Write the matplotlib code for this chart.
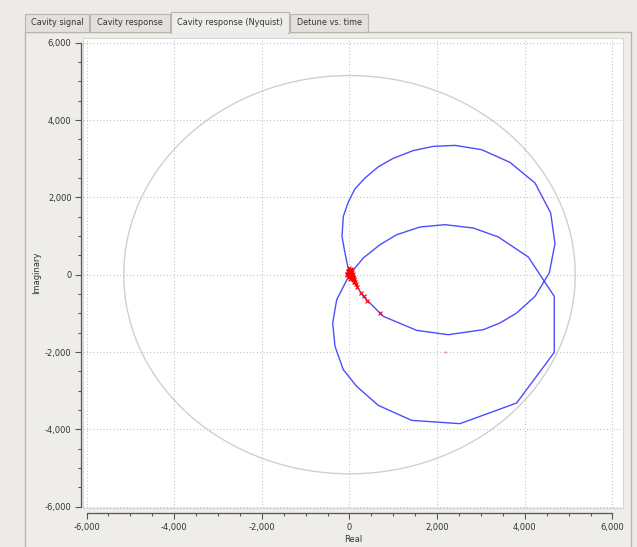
import numpy as np
import matplotlib.pyplot as plt
from matplotlib.patches import Rectangle, Circle
from matplotlib.ticker import FuncFormatter, MultipleLocator

# response trace (real / imaginary)
curve_re = [0, -103, -171, -141, -27, 125, 354, 657, 999, 1456, 1912, 2407, 3016, 3662,
            4232, 4590, 4688, 4558, 4232, 3814, 3434, 3053, 2254, 1533, 771, 315, 0,
            315, 696, 1077, 1608, 2179, 2825, 3395, 4079, 4672, 4672, 3814, 2521, 1419,
            657, 164, -141, -331, -383, -292, 0]
curve_im = [0, 561, 990, 1508, 1880, 2220, 2500, 2790, 3010, 3210, 3318, 3344, 3233, 2904,
            2372, 1596, 802, 44, -561, -991, -1249, -1422, -1552, -1440, -1078, -561, 0,
            432, 776, 1034, 1233, 1293, 1207, 975, 458, -561, -2009, -3318, -3853, -3768,
            -3380, -2889, -2457, -1854, -1249, -647, 0]

# measured points (red crosses)
meas_re = [0, 20, -30, 40, 10, -50, 30, 60, -20, 50, 80, 100, -40, 0, 20, 70, 120,
           90, -60, 110, -10, 35, 55, 15, -25, 45, 75, 95, 140, 180, 262, 331, 392, 696]
meas_im = [0, 40, 60, -20, 120, 20, 150, 80, -60, -80, -120, -150, 100, 180, -100, 20,
           -200, -60, -20, -180, 90, 110, -40, -30, 10, 50, -90, -110, -240, -320,
           -465, -551, -680, -998]
stray_re = [2180]
stray_im = [-2000]

circle_radius = 5150
tab_names = ["Cavity signal", "Cavity response", "Cavity response (Nyquist)", "Detune vs. time"]
ticks = [-6000, -4000, -2000, 0, 2000, 4000, 6000]

W, H = 637, 547
BG = "#edebe7"


def fx(x):
    return x / W


def fy(y):
    return 1 - y / H


fig = plt.figure(figsize=(W / 100, H / 100), dpi=100, facecolor=BG)

# notebook page frame
fig.patches.append(Rectangle((fx(25), fy(560)), fx(631) - fx(25), fy(32) - fy(560),
                             transform=fig.transFigure, facecolor="#efedea",
                             edgecolor="#b9b4ad", lw=1, zorder=-3))
# tabs
tab_x = [(25, 89), (90, 170), (171, 289), (290, 368)]
for i, (name, (x0, x1)) in enumerate(zip(tab_names, tab_x)):
    active = i == 2
    top = 12 if active else 14
    bot = 33 if active else 32
    fig.patches.append(Rectangle((fx(x0), fy(bot)), fx(x1) - fx(x0), fy(top) - fy(bot),
                                 transform=fig.transFigure,
                                 facecolor="#efedea" if active else "#e4e1dc",
                                 edgecolor="#b9b4ad", lw=0.8, zorder=-2))
    if active:
        fig.patches.append(Rectangle((fx(x0 + 0.6), fy(33.5)), fx(x1 - x0 - 1.2), fy(31) - fy(33.5),
                                     transform=fig.transFigure, facecolor="#efedea",
                                     edgecolor="none", zorder=-1))
    fig.text(fx((x0 + x1) / 2), fy(22.5), name, ha="center", va="center",
             fontsize=5.9, color="#333333")

ax = fig.add_axes([fx(83), fy(508), fx(623) - fx(83), fy(38) - fy(508)])
ax.set_zorder(2)
ax.set_facecolor("white")

ax.add_patch(Circle((0, 0), circle_radius, fill=False, edgecolor="#d0d0d0", lw=1.0))
ax.plot(curve_re, curve_im, color="#4d4dff", lw=1.0)
ax.plot(meas_re, meas_im, ls="none", marker="x", color="red", ms=3.2, mew=0.8)
ax.plot(stray_re, stray_im, ls="none", marker="o", color="red", ms=1, alpha=0.25)

ax.set_xlim(-6080, 6240)
ax.set_ylim(-6034, 6121)

ax.set_xticks(ticks)
ax.set_yticks(ticks)
ax.xaxis.set_minor_locator(MultipleLocator(500))
ax.yaxis.set_minor_locator(MultipleLocator(500))
fmt = FuncFormatter(lambda v, p: f"{int(v):,}")
ax.xaxis.set_major_formatter(fmt)
ax.yaxis.set_major_formatter(fmt)
ax.grid(True, which="major", color="#c4c4c4", ls=(0, (1, 2)), lw=0.8)

for s in ["top", "right"]:
    ax.spines[s].set_visible(False)
ax.add_patch(Rectangle((0, 0), 1, 1, transform=ax.transAxes, fill=False,
                       edgecolor="#d6d6d6", lw=0.8, clip_on=False, zorder=0.5))
ax.spines["left"].set_position(("outward", 1.2))
ax.spines["bottom"].set_position(("outward", 3.8))
ax.spines["left"].set_bounds(-6000, 6000)
ax.spines["bottom"].set_bounds(-6000, 6000)
for s in ["left", "bottom"]:
    ax.spines[s].set_color("#555555")
    ax.spines[s].set_linewidth(0.9)

ax.tick_params(which="major", length=4.5, width=0.8, color="#555555",
               labelsize=6, labelcolor="#333333", pad=2.5)
ax.tick_params(which="minor", length=2.5, width=0.8, color="#555555")

ax.set_xlabel("Real", fontsize=6, color="#333333", labelpad=2)
ax.set_ylabel("Imaginary", fontsize=6, color="#333333", labelpad=3)

fig.savefig("out.png", dpi=100, facecolor=BG)
